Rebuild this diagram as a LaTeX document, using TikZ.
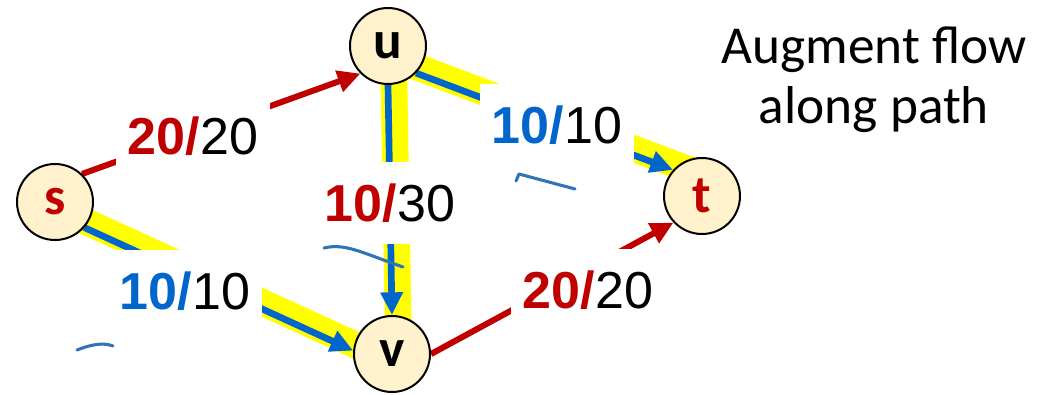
\documentclass[tikz,border=0pt]{standalone}
\usepackage{fontspec}
\setmainfont{Carlito}
\newfontfamily\numfont{Liberation Sans}
\usetikzlibrary{arrows.meta,backgrounds}

\definecolor{flowred}{HTML}{C00000}
\definecolor{flowblue}{HTML}{0066CC}
\definecolor{pathyellow}{HTML}{FFFF00}
\definecolor{vtxfill}{HTML}{FFF2CC}
\definecolor{inkblue}{HTML}{2E75B6}

\newcommand{\flow}[3]{{\bfseries\color{#1}#2/}#3}

\begin{document}
\begin{tikzpicture}[
  x=0.75pt, y=-0.75pt,
  vtx/.style={circle, draw=black, line width=1.5pt, fill=vtxfill,
    minimum size=57pt, inner sep=0pt,
    font=\fontsize{40}{48}\selectfont\bfseries},
  flab/.style={fill=white, inner xsep=9pt, inner ysep=16pt,
    font=\numfont\fontsize{39}{47}\selectfont},
  redline/.style={draw=flowred, line width=4.5pt},
  blueline/.style={draw=flowblue, line width=5pt},
  hl/.style={draw=pathyellow, line width=20pt,
    shorten <=-12pt, shorten >=-12pt},
  arr/.style={-{Triangle[length=17pt,width=16pt]}},
  ink/.style={draw=inkblue, line width=2.3pt, line cap=round, line join=round}
]
  \useasboundingbox (0,0) rectangle (1058,394);

  \node[vtx, text=flowred] (s) at (55,202) {s};
  \node[vtx] (u) at (388,46) {u};
  \node[vtx] (v) at (392,354) {v};
  \node[vtx, text=flowred] (t) at (702,196) {t};

  \begin{scope}[on background layer]
    \draw[hl, transform canvas={shift={(2.5,-5.5)}}] (s.319) -- (v.175);
    \draw[hl, transform canvas={shift={(2.6,-5.4)}}] (u.316) -- (t.138);
    \draw[hl, transform canvas={shift={(6,0)}}] (u.270) -- (v.90);
    \draw[redline, arr] (s.46) -- (u.225);
    \draw[redline, arr] (v.east) -- (t.223);
    \draw[blueline, arr] (s.319) -- (v.175);
    \draw[blueline, arr] (u.316) -- (t.138);
    \draw[blueline, arr] (u.270) -- (v.90);
  \end{scope}

  \node[flab] (lsu) at (193,136) {\flow{flowred}{20}{20}};
  \node[flab] (lsv) at (185,291) {\flow{flowblue}{10}{10}};
  \node[flab] (luv) at (390,203) {\flow{flowred}{10}{30}};
  \node[flab] (lut) at (557,125) {\flow{flowblue}{10}{10}};
  \node[flab] (lvt) at (588,290) {\flow{flowred}{20}{20}};

  \node[align=center, inner sep=0pt, font=\fontsize{40}{45}\selectfont]
    (note) at (874,80) {Augment flow\\along path};

  \draw[ink] (77,350) .. controls (95,343) and (105,343) .. (113,346);
  \draw[ink] (324,248) .. controls (345,243) and (360,252) .. (403,267);
  \draw[ink] (516,181) -- (519,174) -- (575,189);
\end{tikzpicture}
\end{document}
